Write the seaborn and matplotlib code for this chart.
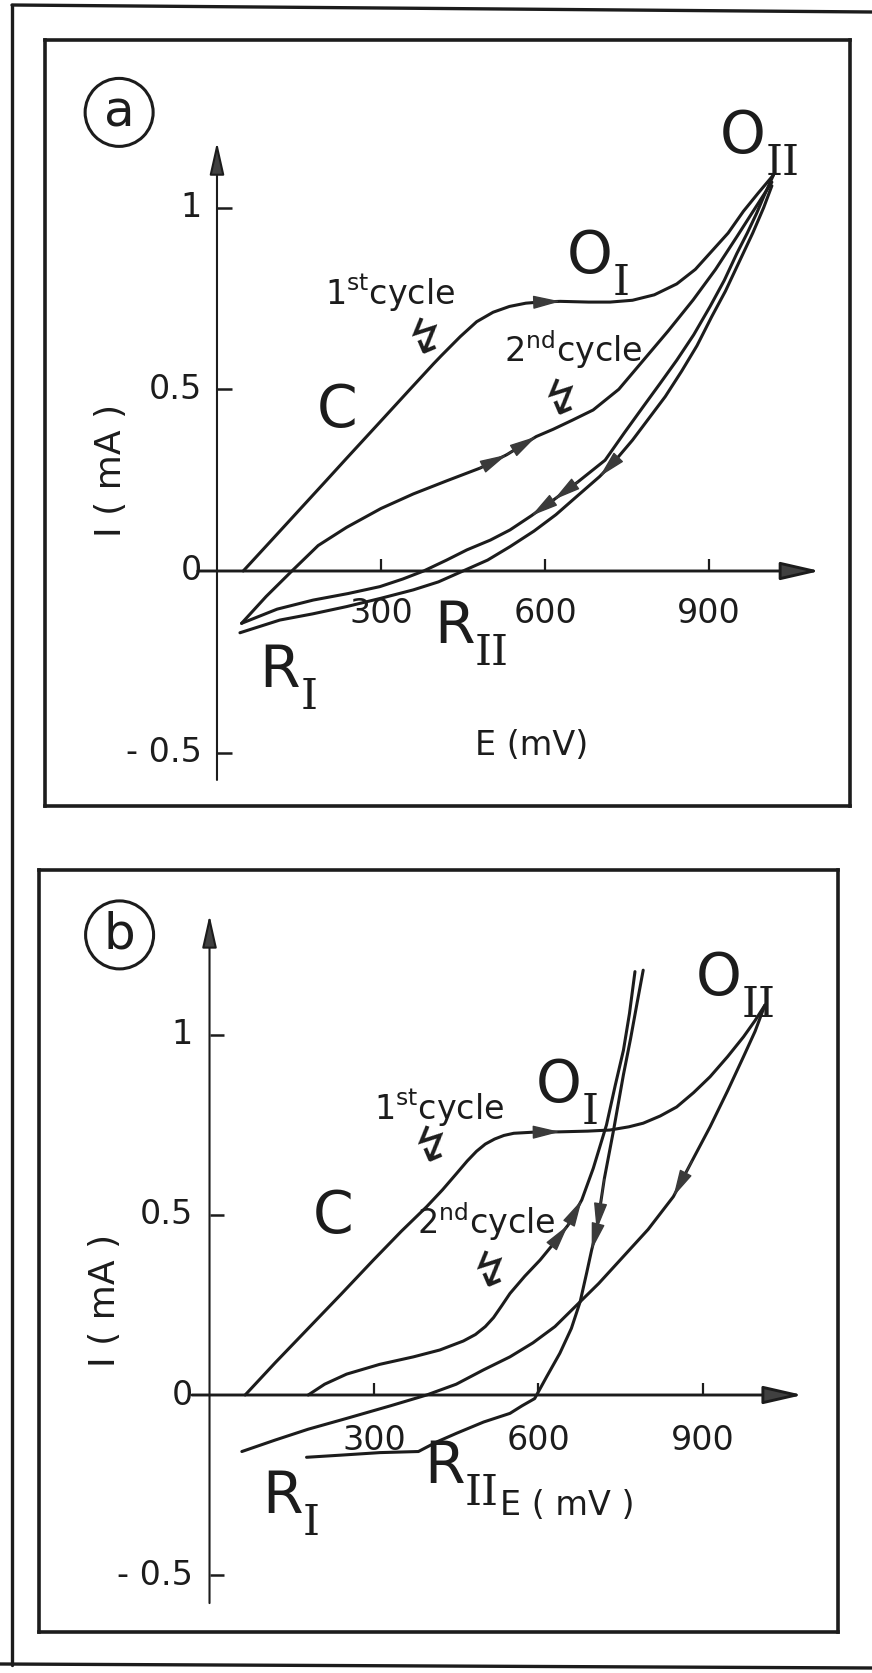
import numpy as np
import pandas as pd
import matplotlib
matplotlib.use("Agg")
import matplotlib.pyplot as plt
from matplotlib.lines import Line2D
import seaborn as sns

# ---------------- data : panel (a) ----------------
a_c1_fwd_E = [48, 100, 150, 200, 237, 300, 350, 396, 410, 445, 475, 505, 535, 565, 590, 628, 680, 719, 760, 800, 841, 875, 902, 935, 963, 990, 1018]
a_c1_fwd_I = [0.0, 0.085, 0.167, 0.249, 0.31, 0.413, 0.495, 0.57, 0.592, 0.645, 0.686, 0.712, 0.728, 0.737, 0.74, 0.742, 0.74, 0.74, 0.745, 0.76, 0.79, 0.83, 0.875, 0.93, 0.99, 1.04, 1.09]
a_c1_rev_E = [1018, 1000, 987, 970, 951, 928, 902, 872, 841, 810, 780, 745, 710, 660, 616, 575, 536, 500, 457, 420, 378, 340, 298, 240, 176, 110, 45]
a_c1_rev_I = [1.09, 1.03, 0.984, 0.93, 0.874, 0.80, 0.728, 0.65, 0.58, 0.515, 0.453, 0.38, 0.305, 0.245, 0.196, 0.152, 0.113, 0.085, 0.058, 0.03, 0.0, -0.022, -0.043, -0.062, -0.08, -0.105, -0.144]
a_c2_fwd_E = [45, 90, 137, 185, 237, 300, 359, 420, 481, 530, 584, 615, 650, 688, 735, 780, 825, 871, 912, 951, 985, 1015]
a_c2_fwd_I = [-0.144, -0.07, 0.0, 0.07, 0.12, 0.172, 0.212, 0.248, 0.283, 0.32, 0.37, 0.39, 0.415, 0.443, 0.50, 0.58, 0.66, 0.746, 0.83, 0.92, 1.00, 1.07]
a_c2_rev_E = [1015, 1000, 980, 955, 930, 905, 878, 850, 820, 790, 760, 729, 700, 658, 620, 580, 536, 495, 450, 405, 359, 300, 237, 175, 115, 42]
a_c2_rev_I = [1.06, 1.00, 0.93, 0.85, 0.77, 0.70, 0.62, 0.55, 0.48, 0.42, 0.36, 0.305, 0.26, 0.205, 0.155, 0.11, 0.067, 0.03, 0.0, -0.03, -0.052, -0.075, -0.098, -0.118, -0.135, -0.17]

# ---------------- data : panel (b) ----------------
b_c1_fwd_E = [65, 120, 180, 240, 299, 350, 396, 425, 451, 470, 487, 503, 520, 537, 555, 590, 639, 690, 730, 765, 791, 822, 852, 883, 913, 945, 974, 995, 1013]
b_c1_fwd_I = [0.0, 0.09, 0.185, 0.28, 0.375, 0.455, 0.523, 0.57, 0.616, 0.65, 0.677, 0.697, 0.711, 0.721, 0.727, 0.73, 0.731, 0.733, 0.736, 0.745, 0.755, 0.775, 0.80, 0.84, 0.884, 0.94, 0.995, 1.04, 1.083]
b_c1_rev_E = [1013, 995, 974, 945, 913, 880, 846, 800, 749, 710, 676, 630, 590, 548, 500, 450, 396, 330, 250, 180, 120, 59]
b_c1_rev_I = [1.083, 1.01, 0.94, 0.845, 0.745, 0.65, 0.551, 0.46, 0.375, 0.31, 0.259, 0.19, 0.145, 0.106, 0.07, 0.03, 0.0, -0.03, -0.065, -0.095, -0.125, -0.157]
b_c2_fwd_E = [180, 210, 250, 310, 372, 420, 463, 485, 503, 518, 533, 548, 575, 603, 630, 654, 679, 700, 724, 740, 755, 766, 776]
b_c2_fwd_I = [0.0, 0.03, 0.058, 0.085, 0.106, 0.125, 0.15, 0.168, 0.19, 0.215, 0.248, 0.282, 0.33, 0.375, 0.425, 0.472, 0.542, 0.63, 0.75, 0.86, 0.958, 1.06, 1.176]
b_c2_rev_E = [791, 780, 768, 755, 737, 720, 706, 697, 688, 676, 660, 639, 615, 593, 570, 548, 500, 451, 415, 396, 381, 311, 240, 177]
b_c2_rev_I = [1.18, 1.09, 0.99, 0.89, 0.736, 0.60, 0.458, 0.403, 0.34, 0.259, 0.185, 0.116, 0.051, -0.01, -0.03, -0.051, -0.075, -0.106, -0.13, -0.145, -0.157, -0.16, -0.167, -0.173]

# ---------------- ticks ----------------
x_ticks = [300, 600, 900]
x_tick_labels = ["300", "600", "900"]
y_ticks = [1, 0.5, 0, -0.5]
y_tick_labels = ["1", "0.5", "0", "- 0.5"]

INK = "#1c1c1c"
sns.set_style("white")
plt.rcParams["font.family"] = ["DejaVu Sans"]

W, H = 872, 1673
fig = plt.figure(figsize=(W / 100, H / 100), dpi=100)


def add_panel(left, top, right, bottom):
    return fig.add_axes([left / W, 1 - bottom / H, (right - left) / W, (bottom - top) / H])


def segments_frame(segs):
    frames = []
    for name, (E, I) in segs.items():
        frames.append(pd.DataFrame({"E": E, "I": I, "seg": name}))
    return pd.concat(frames, ignore_index=True)


def curve_arrow(ax, E, I, idx):
    ax.annotate("", xy=(E[idx], I[idx]), xytext=(E[idx - 1], I[idx - 1]),
                arrowprops=dict(arrowstyle="-|>,head_length=1.7,head_width=0.42",
                                mutation_scale=10, fc="#3a3a3a", ec="#3a3a3a",
                                lw=1.0, shrinkA=0, shrinkB=0), zorder=4)


def draw_axes(ax, xmin, xmax, ymin, ymax):
    ax.annotate("", xy=(xmax, 0), xytext=(xmin, 0),
                arrowprops=dict(arrowstyle="-|>,head_length=2.4,head_width=0.55",
                                mutation_scale=10, fc="#404040", ec=INK, lw=2.1,
                                shrinkA=0, shrinkB=0), zorder=3)
    ax.annotate("", xy=(0, ymax), xytext=(0, ymin),
                arrowprops=dict(arrowstyle="-|>,head_length=2.0,head_width=0.45",
                                mutation_scale=10, fc="#404040", ec=INK, lw=1.5,
                                shrinkA=0, shrinkB=0), zorder=3)
    for t in x_ticks:
        ax.plot([t, t], [0, 0.032], color=INK, lw=1.6, solid_capstyle="butt")
    for t in y_ticks:
        if t != 0:
            ax.plot([0, 27], [t, t], color=INK, lw=1.8, solid_capstyle="butt")


def tick_text(ax, ylab_x, xlab_y):
    for t, lab in zip(x_ticks, x_tick_labels):
        ax.text(t, xlab_y, lab, ha="center", va="center", fontsize=24, color=INK)
    for t, lab in zip(y_ticks, y_tick_labels):
        ax.text(ylab_x, t, lab, ha="right", va="center", fontsize=24, color=INK)


def peak_label(ax, letter, sub, ex, iy):
    main = ax.text(ex, iy, letter, ha="center", va="baseline", fontsize=42, color=INK)
    if sub:
        ax.annotate(sub, xy=(1.0, 0.04), xycoords=main, ha="left", va="center",
                    fontsize=31, family="DejaVu Serif", color=INK)


def squiggle(ax, ex, iy):
    ax.text(ex, iy, "↯", ha="center", va="center", fontsize=34, rotation=-12, color=INK)


def panel(ax, segs, arrows, xlim, ylim, axis_ext):
    df = segments_frame(segs)
    sns.lineplot(data=df, x="E", y="I", units="seg", estimator=None, sort=False,
                 color=INK, lw=2.2, ax=ax, legend=False)
    for name, idxs in arrows.items():
        E, I = segs[name]
        for k in idxs:
            curve_arrow(ax, E, I, k)
    ax.set_xlim(*xlim)
    ax.set_ylim(*ylim)
    ax.set_xticks([])
    ax.set_yticks([])
    ax.set_xlabel("")
    ax.set_ylabel("")
    for s in ax.spines.values():
        s.set_visible(True)
        s.set_linewidth(2.6)
        s.set_color(INK)
    draw_axes(ax, *axis_ext)


# ---------------- panel (a) ----------------
axA = add_panel(45, 40, 850, 806)
segsA = {"c1f": (a_c1_fwd_E, a_c1_fwd_I), "c1r": (a_c1_rev_E, a_c1_rev_I),
         "c2f": (a_c2_fwd_E, a_c2_fwd_I), "c2r": (a_c2_rev_E, a_c2_rev_I)}
arrowsA = {"c1f": [15], "c2f": [9, 10], "c1r": [14, 15], "c2r": [12]}
panel(axA, segsA, arrowsA, (-314.6, 1157.9), (-0.6467, 1.4612), (-35, 1103, -0.575, 1.18))
tick_text(axA, -28, -0.118)
peak_label(axA, "O", "I", 682, 0.820)
peak_label(axA, "O", "II", 962, 1.150)
peak_label(axA, "C", None, 219, 0.396)
peak_label(axA, "R", "I", 115, -0.319)
peak_label(axA, "R", "II", 434, -0.198)
axA.text(316, 0.765, "1$^{\\mathregular{st}}$cycle", ha="center", va="center", fontsize=24, color=INK)
squiggle(axA, 377, 0.63)
axA.text(651, 0.608, "2$^{\\mathregular{nd}}$cycle", ha="center", va="center", fontsize=24, color=INK)
squiggle(axA, 626, 0.462)
axA.text(576, -0.479, "E (mV)", ha="center", va="center", fontsize=24, color=INK)
axA.text(-194, 0.278, "I ( mA )", ha="center", va="center", rotation=90, fontsize=26, color=INK)
axA.text(-179, 1.262, "a", ha="center", va="center", fontsize=36, color=INK,
         bbox=dict(boxstyle="circle,pad=0.2", fc="none", ec=INK, lw=2.2))

# ---------------- panel (b) ----------------
axB = add_panel(39, 870, 838, 1632)
segsB = {"c1f": (b_c1_fwd_E, b_c1_fwd_I), "c1r": (b_c1_rev_E, b_c1_rev_I),
         "c2f": (b_c2_fwd_E, b_c2_fwd_I), "c2r": (b_c2_rev_E, b_c2_rev_I)}
arrowsB = {"c1f": [16], "c1r": [6], "c2f": [15, 16], "c2r": [6, 7]}
panel(axB, segsB, arrowsB, (-311.0, 1146.3), (-0.6583, 1.4583), (-32, 1082, -0.578, 1.333))
tick_text(axB, -30, -0.125)
peak_label(axB, "O", "I", 637, 0.814)
peak_label(axB, "O", "II", 928, 1.111)
peak_label(axB, "C", None, 225, 0.45)
peak_label(axB, "R", "I", 133, -0.328)
peak_label(axB, "R", "II", 429, -0.244)
axB.text(419, 0.797, "1$^{\\mathregular{st}}$cycle", ha="center", va="center", fontsize=24, color=INK)
squiggle(axB, 400, 0.68)
axB.text(504, 0.48, "2$^{\\mathregular{nd}}$cycle", ha="center", va="center", fontsize=24, color=INK)
squiggle(axB, 508, 0.333)
axB.text(652, -0.306, "E ( mV )", ha="center", va="center", fontsize=24, color=INK)
axB.text(-190, 0.264, "I ( mA )", ha="center", va="center", rotation=90, fontsize=26, color=INK)
axB.text(-164, 1.278, "b", ha="center", va="center", fontsize=36, color=INK,
         bbox=dict(boxstyle="circle,pad=0.2", fc="none", ec=INK, lw=2.2))

# ---------------- outer frame ----------------
for (x0, y0, x1, y1) in [(12, 5, 872, 12), (12, 5, 12, 1665), (0, 1664, 872, 1668)]:
    fig.add_artist(Line2D([x0 / W, x1 / W], [1 - y0 / H, 1 - y1 / H],
                          transform=fig.transFigure, color=INK, lw=2.4))

fig.savefig("out.png", dpi=100)
